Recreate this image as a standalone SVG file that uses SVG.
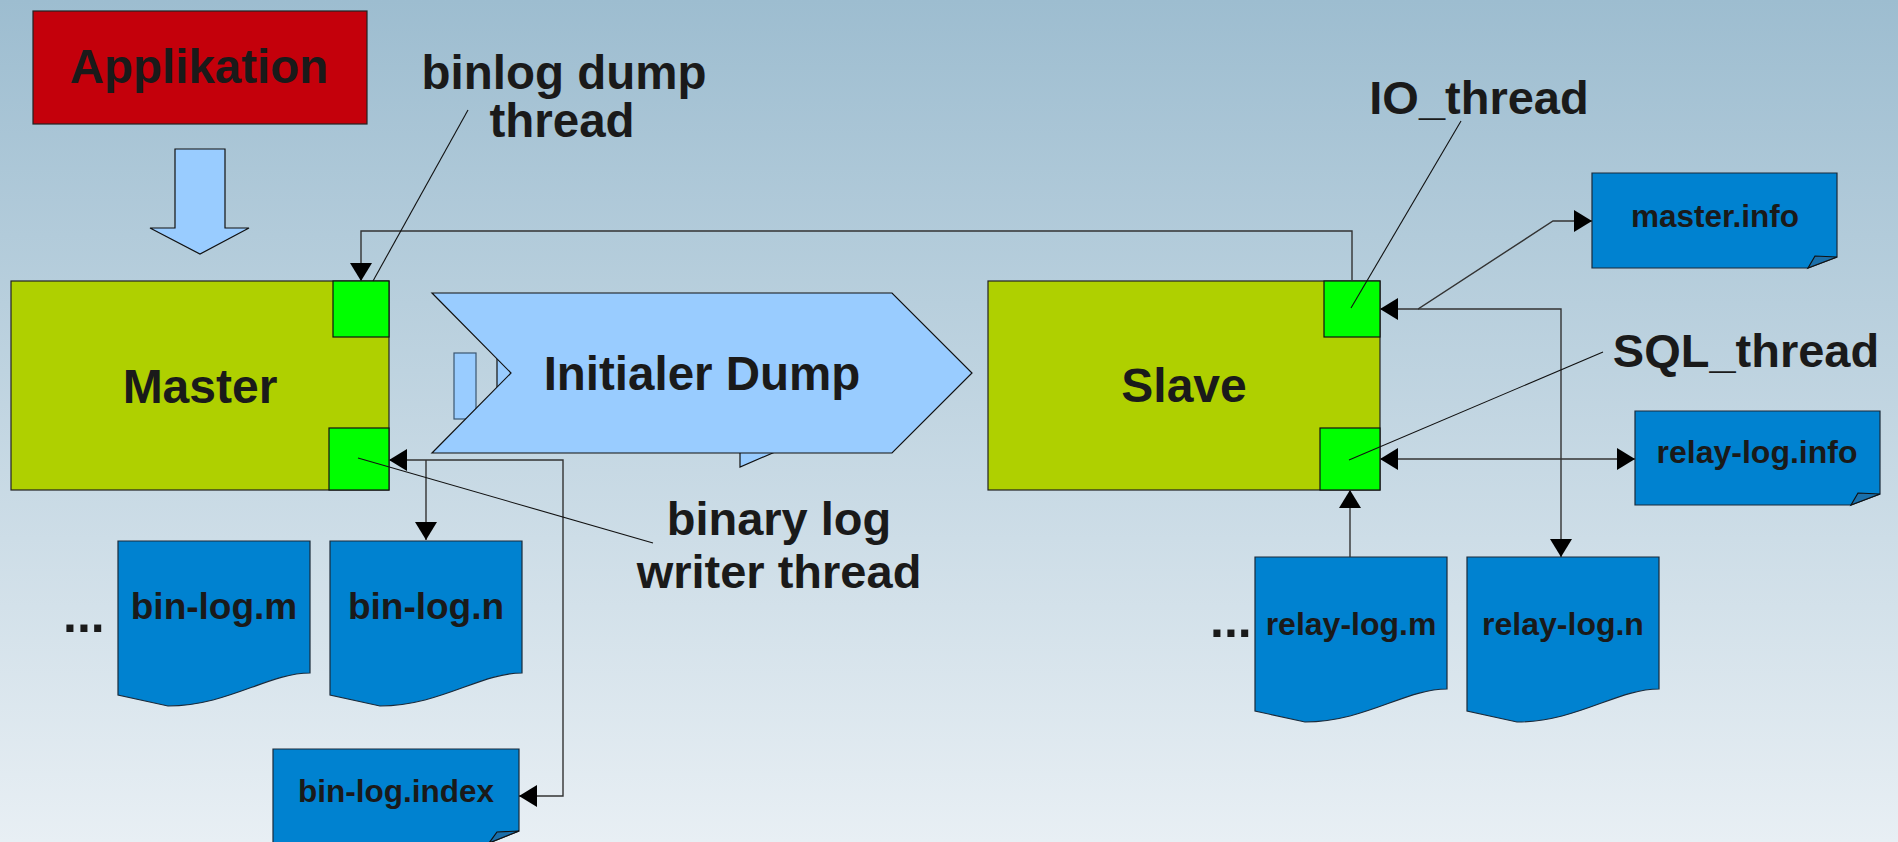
<svg xmlns="http://www.w3.org/2000/svg" width="1898" height="842" viewBox="0 0 1898 842">
<defs>
<linearGradient id="bg" x1="0" y1="0" x2="0" y2="1">
<stop offset="0" stop-color="#9dbdd0"/>
<stop offset="1" stop-color="#e8eff4"/>
</linearGradient>
<marker id="ah" viewBox="0 0 18 22" refX="18" refY="11" markerWidth="18" markerHeight="22" markerUnits="userSpaceOnUse" orient="auto-start-reverse">
<path d="M0,0 L18,11 L0,22 Z" fill="#000"/>
</marker>
<path id="doc" d="M0,0 H192 V132 C150,132 110,165 50,165 L0,154 Z"/>
</defs>
<style>
text{font-family:"Liberation Sans",Arial,sans-serif;font-weight:bold;fill:#1a1a1a}
.c{text-anchor:middle}
.box{stroke:#222;stroke-width:1.2}
.host{fill:#afd000;stroke:#222;stroke-width:1.2}
.thr{fill:#00ff00;stroke:#111;stroke-width:1.2}
.lb{fill:#99ccff;stroke:#111;stroke-width:1.2}
.file{fill:#0082d0;stroke:#1a2a3a;stroke-width:1.2}
.fold{fill:#1a6faa;stroke:#111;stroke-width:1.2}
.conn{fill:none;stroke:#333;stroke-width:1.4}
.lead{fill:none;stroke:#111;stroke-width:1.1}
.big{font-size:47.5px}
</style>
<rect x="0" y="0" width="1898" height="842" fill="url(#bg)"/>

<g id="applikation">
<rect x="33" y="11" width="334" height="113" fill="#c4000b" class="box"/>
<text x="199" y="83" class="c big">Applikation</text>
</g>

<g id="app-arrow">
<polygon points="175,149 225,149 225,228 249,228 200,254 150,228 175,228" class="lb"/>
</g>

<g id="hidden-shape">
<rect x="454" y="353" width="22" height="66" fill="#99ccff" stroke="#3a5570" stroke-width="1.2"/>
<polygon points="497,355 520,373 497,391" class="lb"/>
<polygon points="740,430 740,467 826,430" class="lb"/>
</g>

<g id="initial-dump">
<polygon points="432,293 892,293 972,373 892,453 432,453 511,373" class="lb"/>
<text x="702" y="390" class="c big">Initialer Dump</text>
</g>

<g id="master">
<rect x="11" y="281" width="378" height="209" class="host"/>
<text x="200" y="403" class="c" font-size="48">Master</text>
<rect id="binlog-dump-thread" x="333" y="281" width="56" height="56" class="thr"/>
<rect id="binlog-writer-thread" x="329" y="428" width="60" height="62" class="thr"/>
</g>

<g id="slave">
<rect x="988" y="281" width="392" height="209" class="host"/>
<text x="1184" y="402" class="c" font-size="48">Slave</text>
<rect id="io-thread" x="1324" y="281" width="56" height="56" class="thr"/>
<rect id="sql-thread" x="1320" y="428" width="60" height="62" class="thr"/>
</g>

<g id="label-binlog-dump">
<text x="564" y="89" class="c big">binlog dump</text>
<text x="562" y="137" class="c big">thread</text>
</g>
<g id="label-writer">
<text x="779" y="535" class="c" font-size="47">binary log</text>
<text x="779" y="588" class="c" font-size="47">writer thread</text>
</g>
<g id="label-io">
<text x="1479" y="114" class="c" font-size="47">IO_thread</text>
</g>
<g id="label-sql">
<text x="1746" y="367" class="c" font-size="47">SQL_thread</text>
</g>

<g id="bin-log-m">
<use href="#doc" x="118" y="541" class="file"/>
<text x="214" y="619" class="c" font-size="37">bin-log.m</text>
</g>
<g id="bin-log-n">
<use href="#doc" x="330" y="541" class="file"/>
<text x="426" y="619" class="c" font-size="37">bin-log.n</text>
</g>
<g id="dots-left">
<text x="63" y="632" font-size="50">...</text>
</g>
<g id="bin-log-index">
<path d="M273,749 H519 V831 L489,843 H273 Z" class="file"/>
<path d="M489,843 L497,832 L519,831 Z" class="fold"/>
<text x="396" y="802" class="c" font-size="31.5">bin-log.index</text>
</g>

<g id="master-info">
<path d="M1592,173 H1837 V257 L1808,268 H1592 Z" class="file"/>
<path d="M1808,268 L1815,256 L1837,257 Z" class="fold"/>
<text x="1715" y="227" class="c" font-size="31.5">master.info</text>
</g>
<g id="relay-log-info">
<path d="M1635,411 H1880 V494 L1851,505 H1635 Z" class="file"/>
<path d="M1851,505 L1858,493 L1880,494 Z" class="fold"/>
<text x="1757" y="463" class="c" font-size="32">relay-log.info</text>
</g>
<g id="relay-log-m">
<use href="#doc" x="1255" y="557" class="file"/>
<text x="1351" y="635" class="c" font-size="32">relay-log.m</text>
</g>
<g id="relay-log-n">
<use href="#doc" x="1467" y="557" class="file"/>
<text x="1563" y="635" class="c" font-size="32">relay-log.n</text>
</g>
<g id="dots-right">
<text x="1210" y="637" font-size="50">...</text>
</g>

<g id="connectors">
<path d="M1352,281 V231 H361 V281" class="conn" marker-end="url(#ah)"/>
<path d="M389,460 H563 V796 H519" class="conn" marker-start="url(#ah)" marker-end="url(#ah)"/>
<path d="M426,460 V540" class="conn" marker-end="url(#ah)"/>
<path d="M1380,309 H1418 L1553,221 H1592" class="conn" marker-start="url(#ah)" marker-end="url(#ah)"/>
<path d="M1418,309 H1561 V557" class="conn" marker-end="url(#ah)"/>
<path d="M1380,459 H1635" class="conn" marker-start="url(#ah)" marker-end="url(#ah)"/>
<path d="M1350,557 V490" class="conn" marker-end="url(#ah)"/>
<line x1="468" y1="110" x2="373" y2="281" class="lead"/>
<line x1="358" y1="458" x2="653" y2="543" class="lead"/>
<line x1="1461" y1="121" x2="1351" y2="308" class="lead"/>
<line x1="1603" y1="352" x2="1349" y2="460" class="lead"/>
</g>
</svg>
